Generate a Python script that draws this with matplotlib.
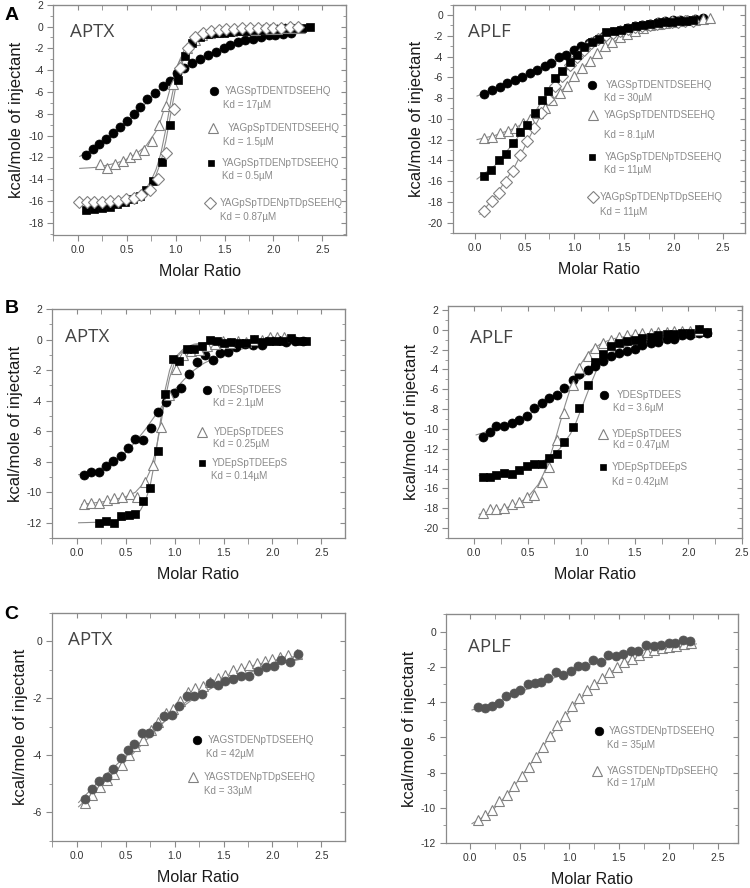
import matplotlib
matplotlib.use('Agg')
import matplotlib.pyplot as plt
from matplotlib.ticker import MultipleLocator

plt.rcParams['font.family'] = ['Liberation Sans', 'DejaVu Sans']

# ── data: panel A, APTX ────────────────────────────────────────────────────
a1_circ_x = [0.08, 0.16, 0.22, 0.29, 0.36, 0.43, 0.50, 0.57, 0.64, 0.71, 0.79, 0.87, 0.94, 1.01, 1.09,
             1.17, 1.25, 1.33, 1.41, 1.49, 1.56, 1.64, 1.71, 1.79, 1.87, 1.95, 2.02, 2.10, 2.18]
a1_circ_y = [-11.75, -11.2, -10.8, -10.3, -9.8, -9.25, -8.7, -8.0, -7.35, -6.65, -6.05, -5.45, -4.95, -4.3, -3.8,
             -3.3, -3.0, -2.6, -2.3, -2.0, -1.7, -1.45, -1.25, -1.1, -0.95, -0.8, -0.75, -0.7, -0.6]
a1_tri_x = [0.23, 0.30, 0.38, 0.46, 0.53, 0.60, 0.68, 0.76, 0.83, 0.90, 0.97, 1.04, 1.12, 1.20,
            1.27, 1.35, 1.43, 1.50, 1.58, 1.66, 1.73, 1.81, 1.89, 1.96, 2.04, 2.12, 2.19, 2.27]
a1_tri_y = [-12.6, -12.95, -12.6, -12.3, -11.95, -11.65, -11.3, -10.5, -9.0, -7.3, -5.3, -3.4, -2.0, -1.2,
            -0.8, -0.6, -0.5, -0.45, -0.4, -0.35, -0.3, -0.3, -0.25, -0.2, -0.2, -0.15, -0.15, -0.1]
a1_sq_x = [0.08, 0.17, 0.25, 0.33, 0.40, 0.48, 0.56, 0.64, 0.70, 0.77, 0.86, 0.94, 1.02, 1.10, 1.17,
           1.25, 1.33, 1.41, 1.49, 1.56, 1.64, 1.72, 1.80, 1.88, 1.96, 2.04, 2.12, 2.20, 2.29, 2.37]
a1_sq_y = [-16.85, -16.7, -16.6, -16.5, -16.3, -16.1, -15.8, -15.5, -14.95, -14.2, -12.45, -9.0, -4.9, -2.7, -1.55,
           -1.0, -0.7, -0.6, -0.55, -0.5, -0.45, -0.4, -0.35, -0.3, -0.25, -0.2, -0.15, -0.1, -0.1, -0.05]
a1_dia_x = [0.01, 0.09, 0.17, 0.25, 0.33, 0.41, 0.49, 0.57, 0.65, 0.74, 0.82, 0.90, 0.98, 1.05, 1.13,
            1.20, 1.28, 1.36, 1.44, 1.52, 1.60, 1.68, 1.76, 1.84, 1.92, 2.00, 2.08, 2.17, 2.25]
a1_dia_y = [-16.1, -16.1, -16.1, -16.05, -16.0, -15.95, -15.85, -15.7, -15.45, -14.95, -13.95, -11.6, -7.55, -3.8, -1.95,
            -1.0, -0.6, -0.45, -0.3, -0.25, -0.2, -0.15, -0.1, -0.1, -0.1, -0.1, -0.1, -0.05, -0.05]
a1_fit_circ = ([0.02, 0.1, 0.2, 0.3, 0.4, 0.5, 0.6, 0.7, 0.8, 0.9, 1.0, 1.1, 1.2, 1.3, 1.5, 1.7, 1.9, 2.1, 2.25],
               [-11.9, -11.5, -10.95, -10.35, -9.65, -8.85, -7.95, -7.0, -6.05, -5.2, -4.45, -3.8, -3.25, -2.8,
                -2.05, -1.45, -1.0, -0.75, -0.6])
a1_fit_tri = ([0.02, 0.2, 0.4, 0.5, 0.6, 0.7, 0.8, 0.85, 0.9, 0.95, 1.0, 1.05, 1.1, 1.2, 1.3, 1.5, 1.8, 2.3],
              [-13.0, -12.9, -12.5, -12.15, -11.65, -10.9, -9.6, -8.5, -7.1, -5.5, -4.0, -2.9, -2.1, -1.2,
               -0.8, -0.45, -0.25, -0.15])
a1_fit_sq = ([0.05, 0.2, 0.4, 0.5, 0.6, 0.7, 0.75, 0.8, 0.85, 0.9, 0.95, 1.0, 1.05, 1.1, 1.2, 1.3, 1.5, 2.0, 2.4],
             [-17.0, -16.8, -16.4, -16.05, -15.6, -14.8, -14.1, -13.1, -11.6, -9.4, -6.9, -4.7, -3.1, -2.1,
              -1.15, -0.75, -0.45, -0.2, -0.1])
a1_fit_dia = ([0.0, 0.2, 0.4, 0.5, 0.6, 0.7, 0.75, 0.8, 0.85, 0.9, 0.95, 1.0, 1.05, 1.1, 1.2, 1.3, 1.5, 2.0, 2.3],
              [-16.2, -16.1, -15.9, -15.7, -15.4, -14.9, -14.4, -13.6, -12.4, -10.5, -8.0, -5.6, -3.8, -2.5,
               -1.2, -0.65, -0.3, -0.1, -0.05])

# ── data: panel A, APLF ────────────────────────────────────────────────────
a2_circ_x = [0.09, 0.17, 0.25, 0.32, 0.40, 0.47, 0.55, 0.62, 0.70, 0.77, 0.85, 0.92, 1.00, 1.07, 1.15,
             1.22, 1.30, 1.38, 1.45, 1.53, 1.61, 1.68, 1.76, 1.84, 1.91, 1.99, 2.07, 2.14, 2.22, 2.30]
a2_circ_y = [-7.6, -7.2, -6.95, -6.55, -6.3, -6.0, -5.6, -5.3, -4.9, -4.6, -4.05, -3.8, -3.35, -2.95, -2.65,
             -2.4, -2.0, -1.75, -1.5, -1.25, -1.1, -0.95, -0.85, -0.7, -0.6, -0.5, -0.5, -0.45, -0.4, -0.3]
a2_tri_x = [0.09, 0.17, 0.25, 0.33, 0.40, 0.48, 0.55, 0.63, 0.70, 0.78, 0.86, 0.93, 1.00, 1.08, 1.16, 1.23,
            1.31, 1.38, 1.46, 1.53, 1.61, 1.69, 1.76, 1.84, 1.91, 1.99, 2.06, 2.14, 2.22, 2.30, 2.37]
a2_tri_y = [-11.8, -11.7, -11.4, -11.2, -10.9, -10.4, -10.0, -9.45, -8.95, -8.15, -7.5, -6.8, -5.85, -5.1, -4.4, -3.65,
            -3.0, -2.55, -2.1, -1.8, -1.5, -1.25, -1.0, -0.87, -0.75, -0.65, -0.6, -0.5, -0.45, -0.4, -0.3]
a2_sq_x = [0.09, 0.16, 0.24, 0.31, 0.38, 0.45, 0.52, 0.60, 0.67, 0.74, 0.81, 0.88, 0.96, 1.03, 1.10,
           1.18, 1.25, 1.32, 1.40, 1.47, 1.54, 1.62, 1.69, 1.76, 1.84, 1.91, 1.98, 2.06, 2.13, 2.20]
a2_sq_y = [-15.5, -14.95, -13.95, -13.4, -12.3, -11.3, -10.55, -9.45, -8.2, -7.3, -6.1, -5.35, -4.55, -3.85, -3.1,
           -2.6, -2.35, -1.6, -1.55, -1.45, -1.25, -1.1, -1.0, -0.9, -0.8, -0.7, -0.65, -0.6, -0.55, -0.5]
a2_dia_x = [0.09, 0.17, 0.24, 0.31, 0.38, 0.45, 0.52, 0.59, 0.66, 0.74, 0.81, 0.88, 0.96, 1.03, 1.10,
            1.17, 1.24, 1.32, 1.39, 1.46, 1.54, 1.61, 1.68, 1.76, 1.83, 1.90, 1.98, 2.05, 2.12, 2.20]
a2_dia_y = [-18.85, -17.95, -17.1, -16.1, -15.05, -13.45, -12.15, -10.9, -9.45, -8.1, -6.8, -5.9, -4.8, -4.0, -3.4,
            -2.7, -2.3, -1.95, -1.7, -1.5, -1.3, -1.15, -1.05, -0.95, -0.85, -0.8, -0.7, -0.65, -0.6, -0.55]
a2_fit_circ = ([0.02, 0.2, 0.4, 0.6, 0.8, 1.0, 1.2, 1.4, 1.6, 1.8, 2.0, 2.2, 2.35],
               [-7.8, -7.1, -6.35, -5.45, -4.55, -3.6, -2.7, -2.0, -1.4, -1.0, -0.7, -0.5, -0.4])
a2_fit_tri = ([0.02, 0.2, 0.4, 0.5, 0.6, 0.7, 0.8, 0.9, 1.0, 1.1, 1.2, 1.3, 1.4, 1.6, 1.8, 2.0, 2.2, 2.4],
              [-12.0, -11.6, -10.9, -10.35, -9.7, -8.9, -8.0, -7.0, -5.95, -4.95, -4.0, -3.2, -2.55, -1.6,
               -1.05, -0.75, -0.55, -0.4])
a2_fit_sq = ([0.02, 0.2, 0.4, 0.6, 0.8, 1.0, 1.2, 1.4, 1.6, 1.8, 2.0, 2.2],
             [-15.8, -14.5, -12.2, -9.4, -6.4, -4.1, -2.5, -1.65, -1.15, -0.85, -0.65, -0.5])
a2_fit_dia = ([0.05, 0.2, 0.4, 0.6, 0.8, 1.0, 1.2, 1.4, 1.6, 1.8, 2.0, 2.2],
              [-19.2, -17.5, -14.6, -10.8, -7.0, -4.3, -2.6, -1.7, -1.2, -0.9, -0.7, -0.55])

# ── data: panel B, APTX ────────────────────────────────────────────────────
b1_circ_x = [0.08, 0.15, 0.23, 0.30, 0.37, 0.45, 0.52, 0.60, 0.68, 0.76, 0.83, 0.91, 0.99, 1.07, 1.15,
             1.23, 1.31, 1.39, 1.46, 1.55, 1.63, 1.72, 1.80, 1.89, 1.97, 2.06, 2.14, 2.23, 2.31]
b1_circ_y = [-8.9, -8.65, -8.7, -8.3, -7.95, -7.6, -7.1, -6.5, -6.6, -5.8, -4.75, -4.1, -3.5, -3.2, -2.25,
             -1.45, -1.0, -1.35, -0.85, -0.8, -0.5, -0.3, -0.35, -0.35, -0.05, -0.05, -0.15, -0.1, -0.12]
b1_tri_x = [0.08, 0.15, 0.23, 0.31, 0.38, 0.46, 0.54, 0.62, 0.70, 0.78, 0.86, 0.94, 1.01, 1.09,
            1.17, 1.25, 1.33, 1.41, 1.49, 1.57, 1.65, 1.73, 1.81, 1.89, 1.97, 2.05, 2.12]
b1_tri_y = [-10.75, -10.7, -10.7, -10.5, -10.35, -10.3, -10.1, -10.3, -9.3, -8.2, -5.7, -3.6, -1.95, -1.0,
            -0.75, -0.7, -0.4, -0.3, -0.1, -0.25, -0.1, -0.15, -0.05, 0.0, 0.2, 0.15, 0.2]
b1_sq_x = [0.23, 0.30, 0.38, 0.45, 0.53, 0.60, 0.68, 0.75, 0.83, 0.90, 0.98, 1.05, 1.13, 1.20, 1.28,
           1.36, 1.43, 1.51, 1.58, 1.66, 1.73, 1.81, 1.89, 1.96, 2.04, 2.11, 2.19, 2.26, 2.34]
b1_sq_y = [-12.0, -11.9, -12.0, -11.55, -11.5, -11.45, -10.6, -9.7, -7.3, -3.55, -1.3, -1.4, -0.65, -0.6, -0.4,
           -0.05, -0.1, -0.2, -0.15, -0.25, -0.2, 0.05, -0.15, -0.1, -0.1, -0.1, 0.1, -0.1, -0.1]
b1_fit_circ = ([0.02, 0.2, 0.4, 0.5, 0.6, 0.7, 0.8, 0.9, 1.0, 1.1, 1.2, 1.3, 1.5, 1.7, 1.9, 2.1, 2.35],
               [-8.85, -8.6, -7.9, -7.4, -6.7, -5.9, -5.0, -4.1, -3.3, -2.6, -2.0, -1.55, -0.95, -0.6, -0.4,
                -0.3, -0.2])
b1_fit_tri = ([0.05, 0.3, 0.5, 0.6, 0.7, 0.75, 0.8, 0.85, 0.9, 0.95, 1.0, 1.05, 1.1, 1.2, 1.4, 1.8, 2.15],
              [-10.8, -10.6, -10.3, -10.0, -9.3, -8.6, -7.5, -5.9, -4.0, -2.5, -1.5, -0.95, -0.65, -0.35,
               -0.15, -0.05, 0.0])
b1_fit_sq = ([0.02, 0.3, 0.5, 0.6, 0.65, 0.7, 0.75, 0.8, 0.85, 0.9, 0.95, 1.0, 1.1, 1.2, 1.4, 1.8, 2.35],
             [-12.0, -11.95, -11.8, -11.5, -11.2, -10.6, -9.6, -7.9, -5.6, -3.4, -2.0, -1.2, -0.55, -0.3,
              -0.15, -0.05, -0.05])

# ── data: panel B, APLF ────────────────────────────────────────────────────
b2_x = [0.08, 0.15, 0.21, 0.28, 0.35, 0.42, 0.49, 0.56, 0.63, 0.70, 0.77, 0.84, 0.92, 0.98, 1.06,
        1.13, 1.20, 1.28, 1.35, 1.43, 1.50, 1.57, 1.65, 1.72, 1.80, 1.87, 1.94, 2.02, 2.10, 2.17]
b2_circ_y = [-10.85, -10.35, -9.75, -9.7, -9.35, -9.05, -8.65, -7.9, -7.35, -6.85, -6.6, -5.85, -5.1, -4.45, -4.1,
             -3.6, -3.1, -2.6, -2.35, -2.1, -1.95, -1.55, -1.35, -1.2, -0.9, -0.95, -0.5, -0.55, -0.3, -0.3]
b2_tri_y = [-18.5, -18.1, -18.05, -18.0, -17.55, -17.4, -16.85, -16.65, -15.3, -13.85, -11.1, -8.4, -5.6, -3.9, -2.6,
            -1.8, -1.35, -1.0, -0.7, -0.5, -0.4, -0.35, -0.3, -0.25, -0.2, -0.15, -0.1, -0.1, 0.0]
b2_sq_y = [-14.8, -14.85, -14.6, -14.4, -14.55, -14.15, -13.7, -13.55, -13.55, -12.9, -12.55, -11.3, -9.85, -7.85, -5.6,
           -3.2, -2.4, -1.6, -1.3, -1.15, -1.0, -0.8, -0.7, -0.55, -0.45, -0.4, -0.35, -0.3, 0.05, -0.2]
b2_fit_circ = ([0.02, 0.2, 0.4, 0.6, 0.8, 0.9, 1.0, 1.1, 1.2, 1.4, 1.6, 1.8, 2.0, 2.2],
               [-10.6, -10.0, -9.2, -8.0, -6.5, -5.7, -4.9, -4.1, -3.4, -2.4, -1.7, -1.2, -0.85, -0.6])
b2_fit_tri = ([0.05, 0.2, 0.4, 0.5, 0.6, 0.65, 0.7, 0.75, 0.8, 0.85, 0.9, 0.95, 1.0, 1.05, 1.1, 1.2, 1.3, 1.5, 1.8, 2.2],
              [-18.6, -18.3, -17.6, -16.9, -15.6, -14.5, -13.1, -11.4, -9.5, -7.6, -5.9, -4.5, -3.4, -2.6,
               -2.0, -1.3, -0.9, -0.5, -0.3, -0.15])
b2_fit_sq = ([0.05, 0.2, 0.4, 0.6, 0.7, 0.8, 0.9, 0.95, 1.0, 1.05, 1.1, 1.15, 1.2, 1.3, 1.4, 1.6, 1.8, 2.2],
             [-14.7, -14.6, -14.2, -13.5, -12.9, -12.0, -10.5, -9.4, -8.0, -6.6, -5.2, -3.9, -3.1, -2.2,
              -1.7, -1.1, -0.75, -0.4])

# ── data: panel C, APTX ────────────────────────────────────────────────────
c1_circ_x = [0.085, 0.16, 0.23, 0.305, 0.37, 0.45, 0.52, 0.59, 0.67, 0.74, 0.82, 0.89, 0.97, 1.05, 1.13,
             1.20, 1.28, 1.36, 1.44, 1.52, 1.60, 1.68, 1.76, 1.85, 1.93, 2.02, 2.09, 2.18, 2.26]
c1_circ_y = [-5.53, -5.16, -4.9, -4.75, -4.46, -4.1, -3.82, -3.6, -3.2, -3.23, -2.96, -2.61, -2.59, -2.26, -1.93,
             -1.93, -1.86, -1.46, -1.52, -1.4, -1.33, -1.21, -1.23, -1.04, -0.9, -0.86, -0.67, -0.72, -0.43]
c1_tri_x = [0.085, 0.16, 0.24, 0.31, 0.38, 0.46, 0.53, 0.60, 0.68, 0.76, 0.83, 0.91, 0.98, 1.06, 1.14,
            1.21, 1.29, 1.36, 1.44, 1.52, 1.60, 1.68, 1.76, 1.84, 1.92, 2.00, 2.08, 2.16, 2.25]
c1_tri_y = [-5.66, -5.4, -5.1, -4.87, -4.66, -4.34, -4.0, -3.68, -3.47, -3.1, -2.82, -2.53, -2.36, -2.09, -1.77,
            -1.65, -1.58, -1.42, -1.3, -1.19, -1.02, -0.93, -0.84, -0.77, -0.69, -0.63, -0.55, -0.49, -0.44]
c1_fit_circ = ([0.02, 0.2, 0.4, 0.6, 0.8, 1.0, 1.2, 1.4, 1.6, 1.8, 2.0, 2.3],
               [-5.65, -5.0, -4.35, -3.7, -3.1, -2.5, -2.0, -1.6, -1.3, -1.05, -0.85, -0.62])
c1_fit_tri = ([0.02, 0.2, 0.4, 0.6, 0.8, 1.0, 1.2, 1.4, 1.6, 1.8, 2.0, 2.25],
              [-5.8, -5.2, -4.55, -3.85, -3.15, -2.45, -1.9, -1.45, -1.1, -0.85, -0.68, -0.52])

# ── data: panel C, APLF ────────────────────────────────────────────────────
c2_circ_x = [0.084, 0.15, 0.22, 0.29, 0.36, 0.44, 0.50, 0.58, 0.65, 0.72, 0.79, 0.87, 0.94, 1.02, 1.09,
             1.16, 1.24, 1.32, 1.39, 1.47, 1.54, 1.62, 1.69, 1.77, 1.85, 1.92, 2.00, 2.07, 2.15, 2.22]
c2_circ_y = [-4.3, -4.36, -4.23, -4.08, -3.66, -3.47, -3.32, -2.98, -2.9, -2.84, -2.62, -2.31, -2.46, -2.24, -1.93,
             -1.93, -1.61, -1.71, -1.33, -1.38, -1.27, -1.1, -1.1, -0.76, -0.82, -0.75, -0.65, -0.62, -0.45, -0.52]
c2_tri_x = [0.08, 0.15, 0.225, 0.295, 0.37, 0.44, 0.52, 0.59, 0.66, 0.74, 0.81, 0.88, 0.96, 1.03, 1.10,
            1.175, 1.25, 1.325, 1.40, 1.48, 1.55, 1.63, 1.70, 1.78, 1.85, 1.93, 2.00, 2.08, 2.16, 2.23]
c2_tri_y = [-10.7, -10.43, -10.14, -9.61, -9.29, -8.76, -8.21, -7.68, -7.11, -6.54, -5.91, -5.31, -4.78, -4.23, -3.79,
            -3.32, -2.98, -2.62, -2.27, -2.03, -1.74, -1.55, -1.33, -1.18, -1.04, -0.95, -0.85, -0.8, -0.72, -0.66]
c2_fit_circ = ([0.02, 0.3, 0.6, 0.9, 1.2, 1.5, 1.8, 2.1, 2.25],
               [-4.45, -3.95, -3.2, -2.5, -1.9, -1.4, -1.0, -0.7, -0.6])
c2_fit_tri = ([0.02, 0.2, 0.4, 0.6, 0.8, 1.0, 1.2, 1.4, 1.6, 1.8, 2.0, 2.28],
              [-10.9, -10.3, -9.1, -7.6, -6.0, -4.55, -3.3, -2.35, -1.7, -1.25, -0.95, -0.7])

# ── legend texts ───────────────────────────────────────────────────────────
a1_labels = ['YAGSpTDENTDSEEHQ', 'YAGpSpTDENTDSEEHQ', 'YAGpSpTDENpTDSEEHQ', 'YAGpSpTDENpTDpSEEHQ']
a1_kd = ['Kd = 17µM', 'Kd = 1.5µM', 'Kd = 0.5µM', 'Kd = 0.87µM']
a2_labels = a1_labels
a2_kd = ['Kd = 30µM', 'Kd = 8.1µM', 'Kd = 11µM', 'Kd = 11µM']
b_labels = ['YDESpTDEES', 'YDEpSpTDEES', 'YDEpSpTDEEpS']
b1_kd = ['Kd = 2.1µM', 'Kd = 0.25µM', 'Kd = 0.14µM']
b2_kd = ['Kd = 3.6µM', 'Kd = 0.47µM', 'Kd = 0.42µM']
c_labels = ['YAGSTDENpTDSEEHQ', 'YAGSTDENpTDpSEEHQ']
c1_kd = ['Kd = 42µM', 'Kd = 33µM']
c2_kd = ['Kd = 35µM', 'Kd = 17µM']

# ── styles ─────────────────────────────────────────────────────────────────
SPINE = '#8a8a8a'
FIT = '#8c8c8c'
LEG = '#8a8a8a'
STY = {
    'circ': dict(marker='o', ms=6.5, mfc='black', mec='black', mew=0.5),
    'circ_g': dict(marker='o', ms=6.5, mfc='#555555', mec='#555555', mew=0.5),
    'tri': dict(marker='^', ms=7, mfc='white', mec='#808080', mew=0.8),
    'sq': dict(marker='s', ms=5.3, mfc='black', mec='black', mew=0.5),
    'dia': dict(marker='D', ms=6, mfc='white', mec='#808080', mew=0.8),
}
LEG_FONT = ['Liberation Sans', 'DejaVu Sans']

fig = plt.figure(figsize=(7.5, 8.88), dpi=100)
fig.patch.set_facecolor('white')


def make_axes(rect, xlim, ylim, ymajor, title, title_pos):
    ax = fig.add_axes(rect)
    ax.set_xlim(*xlim)
    ax.set_ylim(*ylim)
    ax.xaxis.set_major_locator(MultipleLocator(0.5))
    ax.xaxis.set_minor_locator(MultipleLocator(0.25))
    ax.yaxis.set_major_locator(MultipleLocator(ymajor))
    ax.yaxis.set_minor_locator(MultipleLocator(ymajor / 2))
    ax.xaxis.set_major_formatter(lambda v, p: f'{v:.1f}')
    ax.yaxis.set_major_formatter(lambda v, p: f'{v:.0f}')
    for s in ax.spines.values():
        s.set_color(SPINE)
        s.set_linewidth(0.9)
    ax.tick_params(which='both', direction='out', color=SPINE, labelcolor='#333333',
                   labelsize=7.5, top=False, right=False)
    ax.tick_params(which='major', length=4, pad=3)
    ax.tick_params(axis='y', which='minor', length=2.5)
    ax.tick_params(axis='x', which='minor', length=4)

    top = ax.secondary_xaxis('top')
    top.xaxis.set_major_locator(MultipleLocator(0.5))
    top.xaxis.set_minor_locator(MultipleLocator(0.25))
    top.tick_params(which='both', direction='in', length=3.5, color=SPINE, labeltop=False)
    top.spines['top'].set_color(SPINE)
    right = ax.secondary_yaxis('right')
    right.yaxis.set_major_locator(MultipleLocator(ymajor))
    right.yaxis.set_minor_locator(MultipleLocator(ymajor / 2))
    right.tick_params(which='both', direction='in', length=3.5, color=SPINE, labelright=False)
    right.tick_params(which='minor', length=2)
    right.spines['right'].set_color(SPINE)

    ax.set_xlabel('Molar Ratio', fontsize=11.5, color='#1a1a1a', labelpad=7)
    ax.set_ylabel('kcal/mole of injectant', fontsize=12, color='#1a1a1a', labelpad=3)
    ax.text(title_pos[0], title_pos[1], title, transform=ax.transAxes, ha='left', va='center',
            fontsize=13.5, color='#444444', family=['Open Sans', 'DejaVu Sans'])
    return ax


def add_series(ax, x, y, fit, style):
    ax.plot(fit[0], fit[1], color=FIT, lw=0.8, zorder=1)
    ax.plot(x, y, ls='none', zorder=2, **STY[style])


def add_legend(ax, entries):
    # entries: (marker style, marker x, marker y, text x, name, kd, kd y, kd x)
    for style, mx, my, tx, name, kd, ky, kx in entries:
        ax.plot([mx], [my], ls='none', transform=ax.transAxes, clip_on=False, zorder=3,
                **dict(STY[style], ms=STY[style]['ms'] * 0.95))
        ax.text(tx, my, name, transform=ax.transAxes, ha='left', va='center',
                fontsize=7.1, color=LEG, family=LEG_FONT)
        ax.text(kx, ky, kd, transform=ax.transAxes, ha='left', va='center',
                fontsize=7.1, color=LEG, family=LEG_FONT)


# ── Panel A ────────────────────────────────────────────────────────────────
ax = make_axes([0.0711, 0.7354, 0.390, 0.2593], (-0.25, 2.74), (-19.1, 2.0), 2, 'APTX', (0.057, 0.883))
add_series(ax, a1_circ_x, a1_circ_y, a1_fit_circ, 'circ')
add_series(ax, a1_tri_x, a1_tri_y, a1_fit_tri, 'tri')
add_series(ax, a1_sq_x, a1_sq_y, a1_fit_sq, 'sq')
add_series(ax, a1_dia_x, a1_dia_y, a1_fit_dia, 'dia')
add_legend(ax, [
    ('circ', 0.549, 0.625, 0.587, a1_labels[0], a1_kd[0], 0.564, 0.580),
    ('tri', 0.546, 0.464, 0.597, a1_labels[1], a1_kd[1], 0.405, 0.580),
    ('sq', 0.539, 0.313, 0.576, a1_labels[2], a1_kd[2], 0.254, 0.576),
    ('dia', 0.535, 0.138, 0.570, a1_labels[3], a1_kd[3], 0.078, 0.570),
])

ax = make_axes([0.6036, 0.7376, 0.3897, 0.2571], (-0.225, 2.72), (-21.0, 1.0), 2, 'APLF', (0.053, 0.882))
add_series(ax, a2_circ_x, a2_circ_y, a2_fit_circ, 'circ')
add_series(ax, a2_tri_x, a2_tri_y, a2_fit_tri, 'tri')
add_series(ax, a2_dia_x, a2_dia_y, a2_fit_dia, 'dia')
add_series(ax, a2_sq_x, a2_sq_y, a2_fit_sq, 'sq')
add_legend(ax, [
    ('circ', 0.4755, 0.648, 0.525, a2_labels[0], a2_kd[0], 0.591, 0.519),
    ('tri', 0.480, 0.517, 0.517, a2_labels[1], a2_kd[1], 0.429, 0.519),
    ('sq', 0.4755, 0.334, 0.520, a2_labels[2], a2_kd[2], 0.276, 0.519),
    ('dia', 0.481, 0.159, 0.504, a2_labels[3], a2_kd[3], 0.093, 0.504),
])

# ── Panel B ────────────────────────────────────────────────────────────────
ax = make_axes([0.0689, 0.3941, 0.391, 0.2579], (-0.255, 2.74), (-13.0, 2.0), 2, 'APTX', (0.045, 0.879))
add_series(ax, b1_circ_x, b1_circ_y, b1_fit_circ, 'circ')
add_series(ax, b1_tri_x, b1_tri_y, b1_fit_tri, 'tri')
add_series(ax, b1_sq_x, b1_sq_y, b1_fit_sq, 'sq')
add_legend(ax, [
    ('circ', 0.528, 0.646, 0.563, b_labels[0], b1_kd[0], 0.588, 0.551),
    ('tri', 0.511, 0.464, 0.551, b_labels[1], b1_kd[1], 0.410, 0.551),
    ('sq', 0.511, 0.328, 0.545, b_labels[2], b1_kd[2], 0.271, 0.545),
])

ax = make_axes([0.5977, 0.3941, 0.3915, 0.2613], (-0.24, 2.5), (-21.0, 2.4), 2, 'APLF', (0.074, 0.861))
add_series(ax, b2_x, b2_circ_y, b2_fit_circ, 'circ')
add_series(ax, b2_x[:len(b2_tri_y)], b2_tri_y, b2_fit_tri, 'tri')
add_series(ax, b2_x, b2_sq_y, b2_fit_sq, 'sq')
add_legend(ax, [
    ('circ', 0.531, 0.616, 0.573, b_labels[0], b2_kd[0], 0.559, 0.562),
    ('tri', 0.526, 0.448, 0.558, b_labels[1], b2_kd[1], 0.400, 0.562),
    ('sq', 0.526, 0.307, 0.556, b_labels[2], b2_kd[2], 0.243, 0.556),
])

# ── Panel C ────────────────────────────────────────────────────────────────
ax = make_axes([0.0689, 0.0529, 0.391, 0.2571], (-0.255, 2.74), (-7.0, 1.0), 2, 'APTX', (0.057, 0.880))
add_series(ax, c1_tri_x, c1_tri_y, c1_fit_tri, 'tri')
add_series(ax, c1_circ_x, c1_circ_y, c1_fit_circ, 'circ_g')
add_legend(ax, [
    ('circ', 0.494, 0.442, 0.531, c_labels[0], c1_kd[0], 0.381, 0.526),
    ('tri', 0.483, 0.279, 0.519, c_labels[1], c1_kd[1], 0.220, 0.519),
])

ax = make_axes([0.5943, 0.0507, 0.3897, 0.2579], (-0.245, 2.7), (-12.0, 1.0), 2, 'APLF', (0.075, 0.857))
add_series(ax, c2_tri_x, c2_tri_y, c2_fit_tri, 'tri')
add_series(ax, c2_circ_x, c2_circ_y, c2_fit_circ, 'circ_g')
add_legend(ax, [
    ('circ', 0.524, 0.490, 0.559, c_labels[0], c2_kd[0], 0.428, 0.552),
    ('tri', 0.516, 0.314, 0.552, c_labels[1], c2_kd[1], 0.260, 0.552),
])

# panel letters
for letter, y in [('A', 0.983), ('B', 0.653), ('C', 0.308)]:
    fig.text(0.006, y, letter, fontsize=14, fontweight='bold', ha='left', va='center')

fig.savefig('out.png', dpi=100, facecolor='white')
